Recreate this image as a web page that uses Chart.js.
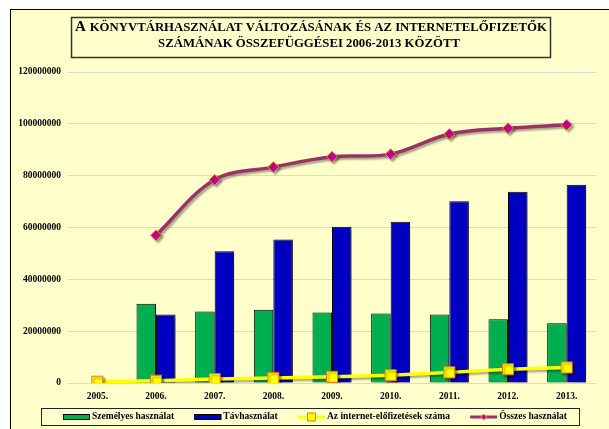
<!DOCTYPE html>
<html>
<head>
<meta charset="utf-8">
<script src="https://cdn.jsdelivr.net/npm/chart.js@4/dist/chart.umd.min.js"></script>
<style>
    html, body { margin: 0; padding: 0; background: #fff; width: 609px; height: 429px; overflow: hidden; }
    #frame { position: absolute; left: 10px; top: 9px; width: 660px; height: 480px; border: 1px solid #000; background: #ffffcc; }
    #wrap { position: absolute; left: 0; top: 0; width: 609px; height: 429px; }
</style>
</head>
<body>
<div id="frame"></div>
<div id="wrap"><canvas id="chart" width="609" height="429"></canvas></div>
<script>
const years = ["2005.", "2006.", "2007.", "2008.", "2009.", "2010.", "2011.", "2012.", "2013."];
const szemelyes = [null, 30600000, 27600000, 28300000, 27200000, 26800000, 26400000, 24600000, 23100000];
const tavhasznalat = [null, 26400000, 50800000, 55400000, 60300000, 62200000, 70100000, 73800000, 76500000];
const internet = [500000, 900000, 1500000, 1900000, 2400000, 3000000, 4100000, 5300000, 6000000];
const osszes = [null, 57000000, 78400000, 83300000, 87300000, 88300000, 96100000, 98300000, 99600000];

const titleLines = [
    "A",
    "KÖNYVTÁRHASZNÁLAT VÁLTOZÁSÁNAK ÉS AZ INTERNETELŐFIZETŐK",
    "SZÁMÁNAK ÖSSZEFÜGGÉSEI 2006-2013 KÖZÖTT",
];

const SERIF = '"Liberation Serif", "Times New Roman", serif';
const tickFont = { family: SERIF, size: 9.5, weight: "bold" };

// soft drop shadow like the office chart
const shadowPlugin = {
    id: "shadow",
    beforeDatasetDraw(chart) {
        const ctx = chart.ctx;
        ctx.save();
        ctx.shadowColor = "rgba(0, 0, 0, 0.35)";
        ctx.shadowOffsetX = 2;
        ctx.shadowOffsetY = 2;
        ctx.shadowBlur = 2;
    },
    afterDatasetDraw(chart) {
        chart.ctx.restore();
    },
};

const titleBoxPlugin = {
    id: "titleBox",
    afterDraw(chart) {
        const ctx = chart.ctx;
        ctx.save();
        ctx.strokeStyle = "#333";
        ctx.lineWidth = 1.5;
        ctx.strokeRect(71.5, 17.5, 479, 40);

        ctx.fillStyle = "#000";
        ctx.textBaseline = "alphabetic";
        ctx.font = `bold 15px ${SERIF}`;
        const bigW = ctx.measureText(titleLines[0] + " ").width;

        // fit the small caps part into the box
        ctx.font = `bold 10px ${SERIF}`;
        const size = (10 * 458) / ctx.measureText(titleLines[1]).width;
        ctx.font = `bold ${size}px ${SERIF}`;
        const w1 = ctx.measureText(titleLines[1]).width;
        const x0 = 311 - (bigW + w1) / 2;

        ctx.font = `bold 15px ${SERIF}`;
        ctx.fillText(titleLines[0], x0, 31);
        ctx.font = `bold ${size}px ${SERIF}`;
        ctx.fillText(titleLines[1], x0 + bigW, 31);
        ctx.textAlign = "center";
        ctx.fillText(titleLines[2], 309, 47);
        ctx.restore();
    },
};

const legendOrder = [2, 3, 0, 1];

const boxLegendPlugin = {
    id: "boxLegend",
    afterDraw(chart) {
        const ctx = chart.ctx;
        const box = { left: 41, top: 408, right: 579, bottom: 425 };
        ctx.save();
        ctx.strokeStyle = "#222";
        ctx.lineWidth = 1;
        ctx.strokeRect(box.left + 0.5, box.top + 0.5, box.right - box.left, box.bottom - box.top);

        ctx.font = `bold 9.5px ${SERIF}`;
        const sw = 27;
        const gap = 2;
        const items = legendOrder.map((i) => chart.data.datasets[i]);
        const widths = items.map((d) => sw + gap + ctx.measureText(d.label).width);
        const sum = widths.reduce((a, b) => a + b, 0);
        const pad = Math.max(8, (504 - sum) / (items.length - 1));
        const total = sum + pad * (items.length - 1);
        let x = (box.left + box.right) / 2 + 5 - total / 2;
        const cy = (box.top + box.bottom) / 2 + 0.5;

        items.forEach((d, k) => {
            if (d.type === "line") {
                ctx.strokeStyle = d.borderColor;
                ctx.lineWidth = 3;
                ctx.beginPath();
                ctx.moveTo(x, cy);
                ctx.lineTo(x + sw, cy);
                ctx.stroke();
                ctx.fillStyle = d.pointBackgroundColor;
                ctx.strokeStyle = d.pointBorderColor;
                ctx.lineWidth = 1;
                const mx = x + sw / 2;
                ctx.beginPath();
                if (d.pointStyle === "rect") {
                    ctx.rect(mx - 4, cy - 4, 8, 8);
                } else {
                    ctx.moveTo(mx, cy - 3);
                    ctx.lineTo(mx + 3, cy);
                    ctx.lineTo(mx, cy + 3);
                    ctx.lineTo(mx - 3, cy);
                    ctx.closePath();
                }
                ctx.fill();
                ctx.stroke();
            } else {
                ctx.fillStyle = d.backgroundColor;
                ctx.fillRect(x, cy - 3, sw, 6);
                ctx.strokeStyle = "#000";
                ctx.lineWidth = 1;
                ctx.strokeRect(x + 0.5, cy - 2.5, sw - 1, 5);
            }
            ctx.fillStyle = "#000";
            ctx.textBaseline = "middle";
            ctx.fillText(d.label, x + sw + gap, cy);
            x += widths[k] + pad;
        });
        ctx.restore();
    },
};

new Chart(document.getElementById("chart"), {
    type: "bar",
    data: {
        labels: years,
        datasets: [
            {
                type: "line",
                label: "Az internet-előfizetések száma",
                data: internet,
                borderColor: "#ffff00",
                backgroundColor: "#ffff00",
                borderWidth: 3.5,
                pointStyle: "rect",
                pointRadius: 7.8,
                pointBackgroundColor: "#ffff00",
                pointBorderColor: "#e8791a",
                pointBorderWidth: 1,
                tension: 0,
                order: 1,
            },
            {
                type: "line",
                label: "Összes használat",
                data: osszes,
                borderColor: "#993366",
                backgroundColor: "#cc0099",
                borderWidth: 3.5,
                pointStyle: "rectRot",
                pointRadius: 5.5,
                pointBackgroundColor: "#cc0099",
                pointBorderColor: "#d9a520",
                pointBorderWidth: 1,
                tension: 0.35,
                order: 1,
            },
            {
                label: "Személyes használat",
                data: szemelyes,
                backgroundColor: "#00b050",
                borderColor: "#000",
                borderWidth: 1,
                order: 2,
            },
            {
                label: "Távhasználat",
                data: tavhasznalat,
                backgroundColor: "#0000c0",
                borderColor: "#000",
                borderWidth: 1,
                order: 2,
            },
        ],
    },
    options: {
        responsive: false,
        animation: false,
        devicePixelRatio: 1,
        layout: { padding: { left: 10, top: 72, right: 13, bottom: 0 } },
        datasets: { bar: { categoryPercentage: 0.665, barPercentage: 1 } },
        plugins: {
            legend: { display: false },
            title: { display: false },
            tooltip: { enabled: false },
        },
        scales: {
            x: {
                offset: true,
                grid: { display: false },
                border: { display: false },
                ticks: { color: "#000", font: tickFont, padding: 0, maxRotation: 0 },
                afterFit(scale) {
                    scale.height = 46;
                },
            },
            y: {
                min: 0,
                max: 120000000,
                grid: { color: "#d9d9d9", drawTicks: false },
                border: { display: false },
                ticks: {
                    stepSize: 20000000,
                    color: "#000",
                    font: tickFont,
                    padding: 7,
                    callback(value) {
                        return String(value);
                    },
                },
                afterFit(scale) {
                    scale.width = 58;
                },
            },
        },
    },
    plugins: [shadowPlugin, titleBoxPlugin, boxLegendPlugin],
});
</script>
</body>
</html>
